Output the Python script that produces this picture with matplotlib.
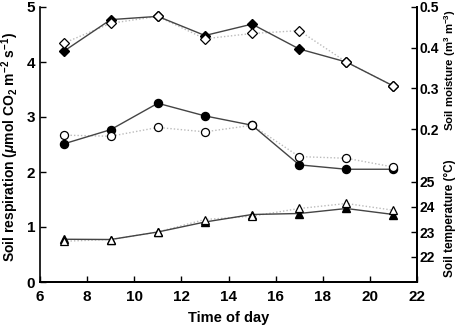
import matplotlib
matplotlib.use("Agg")
import matplotlib.pyplot as plt

plt.rcParams['font.family'] = ['Liberation Sans', 'DejaVu Sans']
plt.rcParams['font.weight'] = 'bold'
plt.rcParams['mathtext.fontset'] = 'custom'
plt.rcParams['mathtext.rm'] = 'Liberation Sans:bold'
plt.rcParams['mathtext.it'] = 'Liberation Sans:italic:bold'
plt.rcParams['mathtext.bf'] = 'Liberation Sans:bold'

hours = [7, 9, 11, 13, 15, 17, 19, 21]

# Soil respiration (left axis)
resp_filled = [2.51, 2.77, 3.25, 3.02, 2.85, 2.13, 2.05, 2.05]
resp_open = [2.67, 2.65, 2.81, 2.73, 2.85, 2.28, 2.25, 2.09]

# Soil moisture (upper right axis)
moist_filled = [0.391, 0.469, 0.477, 0.430, 0.458, 0.397, 0.365, 0.306]
moist_open = [0.411, 0.460, 0.477, 0.422, 0.435, 0.442, 0.365, 0.306]

# Soil temperature (lower right axis)
temp_filled = [22.71, 22.70, 23.00, 23.40, 23.70, 23.74, 23.94, 23.70]
temp_open = [22.63, 22.70, 23.00, 23.50, 23.63, 23.94, 24.14, 23.87]

x_ticks = [6, 8, 10, 12, 14, 16, 18, 20, 22]
resp_ticks = [0, 1, 2, 3, 4, 5]
moist_ticks = [0.2, 0.3, 0.4, 0.5]
temp_ticks = [22, 23, 24, 25]

fig = plt.figure(figsize=(4.59, 3.32), dpi=100)
ax = fig.add_axes([40/459, 50/332, 377/459, 275/332])
axm = ax.twinx()
axt = ax.twinx()

solid = dict(color='#444444', lw=1.0, ls='-')
dotted = dict(color='#bbbbbb', lw=1.0, ls=(0, (1, 1.5)))

def plot_pair(a, yf, yo, marker, ms):
    a.plot(hours, yo, **dotted, zorder=2)
    a.plot(hours, yf, **solid, zorder=3)
    a.plot(hours, yf, ls='none', marker=marker, ms=ms, mfc='black', mec='black', zorder=4)
    a.plot(hours, yo, ls='none', marker=marker, ms=ms, mfc='white', mec='black', mew=0.9, zorder=5)

plot_pair(ax, resp_filled, resp_open, 'o', 5.8)
plot_pair(axm, moist_filled, moist_open, 'D', 5.4)
plot_pair(axt, temp_filled, temp_open, '^', 6.2)

ax.set_xlim(6, 22)
ax.set_ylim(0, 5)
ax.set_xticks(x_ticks)
ax.set_yticks(resp_ticks)
axm.set_ylim(-0.175, 0.5)
axm.set_yticks(moist_ticks)
axm.set_yticklabels(['0.2', '0.3', '0.4', '0.5'])
axt.set_ylim(21, 32)
axt.set_yticks(temp_ticks)

for a in (ax, axm, axt):
    a.tick_params(direction='in', length=4, width=1, labelsize=11)
    for s in a.spines.values():
        s.set_linewidth(1.2)
ax.tick_params(axis='x', pad=6)
axm.tick_params(labelsize=10, pad=2)
axt.tick_params(labelsize=10, pad=2)
ax.spines['top'].set_visible(False)
axm.spines['top'].set_visible(False)
axt.spines['top'].set_visible(False)
axm.spines['left'].set_visible(False)
axt.spines['left'].set_visible(False)

ax.set_xlabel('Time of day', fontsize=10.5, fontweight='bold', labelpad=5)
fig.text(10/459, 1 - 147/332, r'Soil respiration ($\mu$mol CO$_2$ m$^{-2}$ s$^{-1}$)',
         rotation=90, ha='center', va='center', fontsize=10, fontweight='bold')
fig.text(450/459, 1 - 70/332, r'Soil moisture (m$^3$ m$^{-3}$)',
         rotation=90, ha='center', va='center', fontsize=8.2, fontweight='bold')
fig.text(450/459, 1 - 218/332, 'Soil temperature (°C)',
         rotation=90, ha='center', va='center', fontsize=8.5, fontweight='bold')

fig.savefig('out.png', dpi=100)
